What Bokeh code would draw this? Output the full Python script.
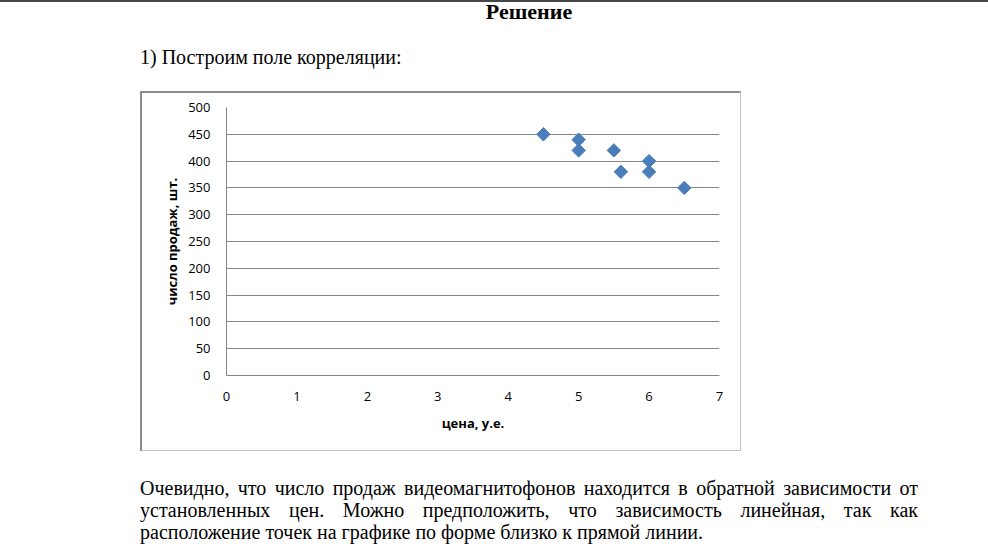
import math
from bokeh.plotting import figure
from bokeh.models import Range1d, FixedTicker, Div
from bokeh.layouts import column
from bokeh.embed import file_html
from bokeh.resources import INLINE

# ---- data ----
price = [4.5, 5.0, 5.0, 5.5, 5.6, 6.0, 6.0, 6.5]
sales = [450, 440, 420, 420, 380, 400, 380, 350]
x_ticks = [0, 1, 2, 3, 4, 5, 6, 7]
y_ticks = [0, 50, 100, 150, 200, 250, 300, 350, 400, 450, 500]

title_text = "Решение"
intro_text = "1) Построим поле корреляции:"
x_title = "цена, у.е."
y_title = "число продаж, шт."
para_lines = [
    "Очевидно, что число продаж видеомагнитофонов находится в обратной зависимости от",
    "установленных цен. Можно предположить, что зависимость линейная, так как",
    "расположение точек на графике по форме близко к прямой линии.",
]

SERIF = "'Liberation Serif', 'Times New Roman', serif"

top_rule = Div(text="", width=988, height=2, margin=(0, 0, 0, 0),
               styles={"background-color": "#454545"})

title_div = Div(text=title_text, width=200, height=20, margin=(0, 0, 0, 429),
                styles={"text-align": "center", "font-family": SERIF,
                        "font-size": "22px", "font-weight": "bold",
                        "line-height": "19px", "color": "#000"})

intro_div = Div(text=intro_text, width=420, height=22, margin=(24, 0, 0, 140),
                styles={"font-family": SERIF, "font-size": "20px",
                        "line-height": "22px", "color": "#000",
                        "white-space": "nowrap"})

# chart (canvas inside a 2px/1px border)
p = figure(width=598, height=357,
           min_border_left=84, min_border_right=24,
           min_border_top=14, min_border_bottom=78,
           x_range=Range1d(0, 7), y_range=Range1d(0, 500),
           output_backend="svg", toolbar_location=None,
           margin=(23, 0, 0, 140))
p.styles = {"box-sizing": "content-box",
            "border-left": "2px solid #8c8c8c", "border-top": "2px solid #8c8c8c",
            "border-right": "1px solid #c4c4c4", "border-bottom": "1px solid #c4c4c4"}
p.background_fill_color = "white"
p.border_fill_color = "white"
p.outline_line_color = None

tick_font = "Open Sans"
for ax, ticks in ((p.xaxis, x_ticks), (p.yaxis, y_ticks)):
    ax.ticker = FixedTicker(ticks=ticks)
    ax.major_tick_out = 0
    ax.major_tick_in = 0
    ax.minor_tick_out = 0
    ax.minor_tick_in = 0
    ax.axis_line_color = "#868686"
    ax.major_label_text_font = tick_font
    ax.major_label_text_font_size = "13px"
    ax.major_label_text_color = "#000000"
    ax.axis_label_text_font = tick_font
    ax.axis_label_text_font_size = "13px"
    ax.axis_label_text_font_style = "bold"
    ax.axis_label_text_color = "#000000"

p.xaxis.axis_label = x_title
p.yaxis.axis_label = y_title
p.yaxis.major_label_standoff = 16
p.xaxis.major_label_standoff = 16
p.xaxis.axis_label_standoff = 10
p.yaxis.axis_label_standoff = 4

p.xgrid.visible = False
p.ygrid.ticker = FixedTicker(ticks=y_ticks)
p.ygrid.grid_line_color = "#868686"
p.ygrid.grid_line_width = 1

p.scatter(price, sales, marker="square", size=9.5, angle=math.pi / 4,
          fill_color="#4A7EBB", line_color="#4A7EBB")

just = ("width:778px;text-align:justify;text-align-last:justify;"
        "white-space:nowrap;height:22px")
plain = "width:778px;white-space:nowrap;height:22px"
para_html = "".join(
    f'<div style="{just if i < len(para_lines) - 1 else plain}">{ln}</div>'
    for i, ln in enumerate(para_lines))
para_div = Div(text=para_html, width=778, height=66, margin=(26, 0, 0, 140),
               styles={"font-family": SERIF, "font-size": "20px",
                       "line-height": "22px", "color": "#000"})

layout = column(top_rule, title_div, intro_div, p, para_div, spacing=0)
open("out.html", "w").write(file_html(layout, INLINE))
